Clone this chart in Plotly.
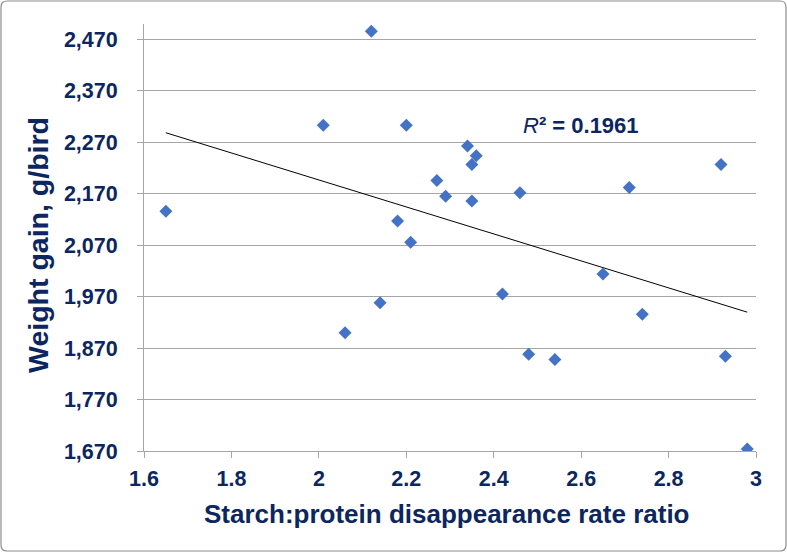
import numpy as np
import plotly.graph_objects as go

# Data
ratio = [1.65, 2.12, 2.01, 2.18, 2.20, 2.21, 2.27, 2.29, 2.34, 2.36, 2.35, 2.35,
         2.46, 2.71, 2.92, 2.65, 2.14, 2.06, 2.42, 2.48, 2.54, 2.74, 2.93, 2.98]
gain = [2136, 2486, 2303, 2117, 2303, 2076, 2196, 2165, 2263, 2244, 2227, 2156,
        2172, 2182, 2227, 2014, 1958, 1900, 1975, 1858, 1848, 1936, 1854, 1674]

x_ticks = [1.6, 1.8, 2.0, 2.2, 2.4, 2.6, 2.8, 3.0]
x_tick_text = ["1.6", "1.8", "2", "2.2", "2.4", "2.6", "2.8", "3"]
y_ticks = [1670, 1770, 1870, 1970, 2070, 2170, 2270, 2370, 2470]
y_tick_text = ["1,670", "1,770", "1,870", "1,970", "2,070", "2,170", "2,270", "2,370", "2,470"]
r2_label = "<i>R</i><b>² = 0.1961</b>"
x_title = "<b>Starch:protein disappearance rate ratio</b>"
y_title = "<b>Weight gain, g/bird</b>"

navy = "#0c2660"
grid = "#a6a6a6"
FONT = "Liberation Sans, Arial, sans-serif"

slope, intercept = np.polyfit(ratio, gain, 1)
tx = [min(ratio), max(ratio)]
ty = [slope * v + intercept for v in tx]

fig = go.Figure()
fig.add_trace(go.Scatter(x=tx, y=ty, mode="lines",
                         line=dict(color="black", width=1), hoverinfo="skip",
                         showlegend=False))
fig.add_trace(go.Scatter(x=ratio, y=gain, mode="markers",
                         marker=dict(symbol="diamond", size=10, color="#4472c4",
                                     line=dict(width=0)),
                         showlegend=False))

L, R, T, B = 144, 31, 24, 102
W, H = 787, 553
pw, ph = W - L - R, H - T - B

def px(xp):
    return (xp - L) / pw

def py(yp):
    return (H - B - yp) / ph

# rounded border around the whole chart
x0, x1, y0, y1, rr = 1, 786, 1, 551, 6
path = (f"M {px(x0+rr)} {py(y0)} L {px(x1-rr)} {py(y0)} Q {px(x1)} {py(y0)} {px(x1)} {py(y0+rr)} "
        f"L {px(x1)} {py(y1-rr)} Q {px(x1)} {py(y1)} {px(x1-rr)} {py(y1)} "
        f"L {px(x0+rr)} {py(y1)} Q {px(x0)} {py(y1)} {px(x0)} {py(y1-rr)} "
        f"L {px(x0)} {py(y0+rr)} Q {px(x0)} {py(y0)} {px(x0+rr)} {py(y0)} Z")
fig.add_shape(type="path", path=path, xref="paper", yref="paper",
              line=dict(color="#8c8c8c", width=1.2), layer="below")

fig.add_annotation(x=2.60, y=2302, xref="x", yref="y", text=r2_label,
                   showarrow=False, font=dict(size=22, color=navy, family=FONT))

# axis titles placed as annotations for exact positioning
fig.add_annotation(x=px(38), y=py(245), xref="paper", yref="paper", text=y_title,
                   textangle=-90, showarrow=False, xanchor="center", yanchor="middle",
                   font=dict(size=28.5, color=navy, family=FONT))
fig.add_annotation(x=px(446), y=py(514), xref="paper", yref="paper", text=x_title,
                   showarrow=False, xanchor="center", yanchor="middle",
                   font=dict(size=26, color=navy, family=FONT))

fig.update_layout(
    width=W, height=H,
    margin=dict(l=L, r=R, t=T, b=B),
    paper_bgcolor="white", plot_bgcolor="white",
    font=dict(family=FONT, color=navy),
    xaxis=dict(range=[1.6, 3.0], tickvals=x_ticks, ticktext=x_tick_text,
               showgrid=False, zeroline=False, showline=True, linecolor=grid,
               linewidth=1, ticks="outside", ticklen=6, tickcolor=grid,
               ticklabelstandoff=2,
               tickfont=dict(size=21.5, color=navy, weight="bold")),
    yaxis=dict(range=[1670, 2500], tickvals=y_ticks, ticktext=y_tick_text,
               showgrid=True, gridcolor=grid, gridwidth=1, zeroline=False,
               showline=True, linecolor=grid, linewidth=1, ticks="outside",
               ticklen=6, tickcolor=grid, ticklabelstandoff=15,
               tickfont=dict(size=21.5, color=navy, weight="bold")),
)

fig.write_html("out.html", config={"displayModeBar": False},
               post_script="document.body.style.margin='0';")
